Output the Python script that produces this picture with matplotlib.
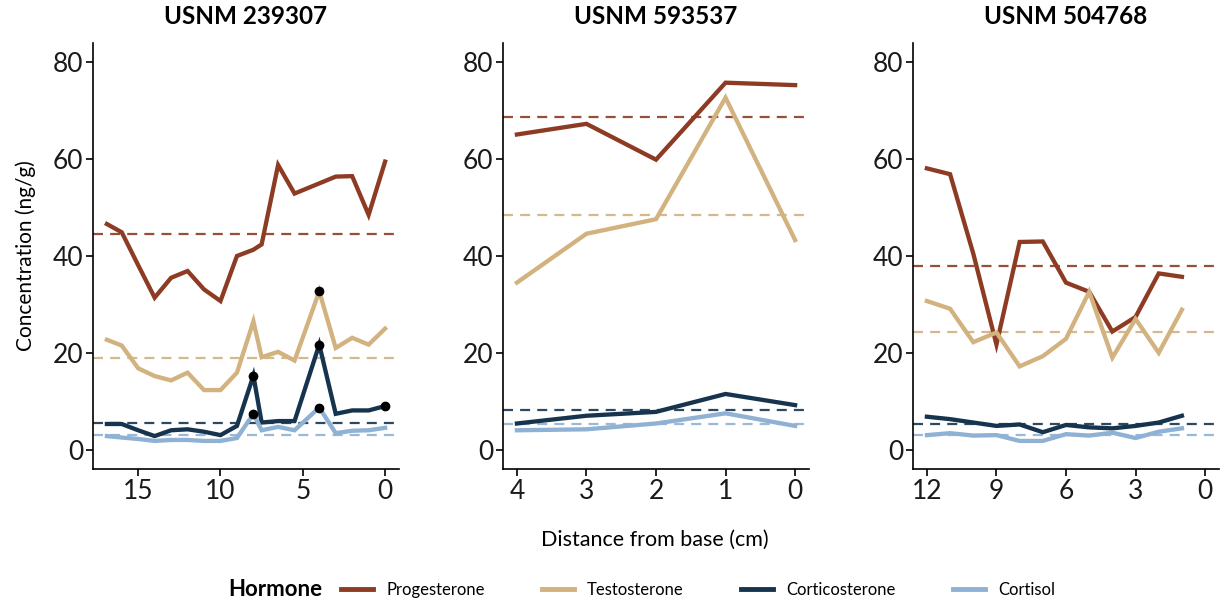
import matplotlib
matplotlib.use("Agg")
import matplotlib.pyplot as plt
from matplotlib.lines import Line2D

plt.rcParams["font.family"] = ["Lato", "DejaVu Sans"]

# --- data ---
hormones = ["Progesterone", "Testosterone", "Corticosterone", "Cortisol"]
colors = ["#8e3b24", "#d2b27e", "#17344f", "#8fb1d3"]

titles = ["USNM 239307", "USNM 593537", "USNM 504768"]

# USNM 239307
dist_a = [16.9, 16, 15, 14, 13, 12, 11, 10, 9, 8, 7.5, 6.5, 5.5, 4, 3, 2, 1, 0]
prog_a = [46.6, 44.9, 38.1, 31.4, 35.5, 36.9, 33.1, 30.7, 40.0, 41.3, 42.4, 58.8, 52.9, 55.0, 56.4, 56.5, 48.5, 59.5]
test_a = [22.7, 21.5, 16.8, 15.2, 14.3, 15.9, 12.3, 12.3, 15.9, 26.5, 19.1, 20.2, 18.4, 32.7, 21.0, 23.1, 21.7, 25.0]
cort_a = [5.3, 5.3, 4.0, 2.8, 4.0, 4.2, 3.7, 3.0, 4.9, 15.3, 5.6, 5.9, 5.9, 21.7, 7.4, 8.1, 8.1, 9.0]
cortisol_a = [2.8, 2.5, 2.2, 1.8, 2.0, 2.0, 1.8, 1.8, 2.4, 7.4, 4.0, 4.7, 4.0, 8.7, 3.4, 3.9, 4.0, 4.5]
mean_a = [44.6, 18.9, 5.4, 3.0]
# highlighted samples (black dots): (distance, value)
dots_a_x = [4, 8, 4, 0, 8, 4]
dots_a_y = [32.7, 15.3, 21.7, 9.0, 7.4, 8.7]

# USNM 593537
dist_b = [4, 3, 2, 1, 0]
prog_b = [65.1, 67.3, 59.9, 75.8, 75.3]
test_b = [34.5, 44.6, 47.6, 72.7, 43.3]
cort_b = [5.4, 7.0, 7.8, 11.5, 9.2]
cortisol_b = [4.0, 4.2, 5.4, 7.5, 4.9]
mean_b = [68.7, 48.5, 8.2, 5.3]

# USNM 504768
dist_c = [12, 11, 10, 9, 8, 7, 6, 5, 4, 3, 2, 1]
prog_c = [58.1, 56.9, 40.5, 21.7, 42.9, 43.0, 34.5, 32.6, 24.4, 27.4, 36.4, 35.7]
test_c = [30.7, 29.1, 22.2, 24.2, 17.2, 19.3, 22.9, 32.6, 19.0, 27.0, 20.0, 28.9]
cort_c = [6.8, 6.3, 5.6, 4.9, 5.2, 3.6, 5.1, 4.6, 4.4, 4.9, 5.6, 7.0]
cortisol_c = [3.0, 3.4, 2.9, 3.0, 1.8, 1.8, 3.2, 2.9, 3.5, 2.4, 3.7, 4.4]
mean_c = [37.9, 24.4, 5.3, 3.0]

panels = [
    (dist_a, [prog_a, test_a, cort_a, cortisol_a], mean_a, (17.745, -0.845), [15, 10, 5, 0]),
    (dist_b, [prog_b, test_b, cort_b, cortisol_b], mean_b, (4.2, -0.2), [4, 3, 2, 1, 0]),
    (dist_c, [prog_c, test_c, cort_c, cortisol_c], mean_c, (12.6, -0.6), [12, 9, 6, 3, 0]),
]

W, H = 1225, 600
fig = plt.figure(figsize=(W / 100, H / 100), dpi=100)
lefts = [93, 503, 913]
for i, (dist, series, means, xl, xt) in enumerate(panels):
    ax = fig.add_axes([lefts[i] / W, 1 - 469 / H, 306 / W, 426 / H])
    for m, c in zip(means, colors):
        ax.axhline(m, color=c, lw=1.6, dashes=(4.5, 3.2), alpha=0.9, zorder=1)
    for s, c in zip(series, colors):
        ax.plot(dist, s, color=c, lw=3.1, solid_joinstyle="miter", zorder=2)
    if i == 0:
        ax.plot(dots_a_x, dots_a_y, "o", color="black", ms=6, zorder=3)
    ax.set_xlim(*xl)
    ax.set_ylim(-4, 84)
    ax.set_xticks(xt)
    ax.set_yticks([0, 20, 40, 60, 80])
    for sp in ("top", "right"):
        ax.spines[sp].set_visible(False)
    for sp in ("left", "bottom"):
        ax.spines[sp].set_linewidth(1.2)
    ax.tick_params(labelsize=19, length=5, width=1.2, color="black", labelcolor="#1a1a1a", pad=2)
    ax.set_title(titles[i], fontsize=17.5, fontweight="bold", pad=14)
    if i == 0:
        ax.set_ylabel("Concentration (ng/g)", fontsize=15, labelpad=12)

fig.text(655 / W, 1 - 540 / H, "Distance from base (cm)", fontsize=15.5, ha="center", va="center")

fig.text(228 / W, 1 - 590 / H, "Hormone", fontsize=16, fontweight="bold", ha="left", va="center")
handles = [Line2D([], [], color=c, lw=3.5) for c in colors]
fig.legend(handles, hormones, loc="center left", bbox_to_anchor=(326 / W, 1 - 590 / H), ncol=4,
           frameon=False, fontsize=12, handlelength=1.9, columnspacing=3.45, handletextpad=0.8)

fig.savefig("out.png", dpi=100)
